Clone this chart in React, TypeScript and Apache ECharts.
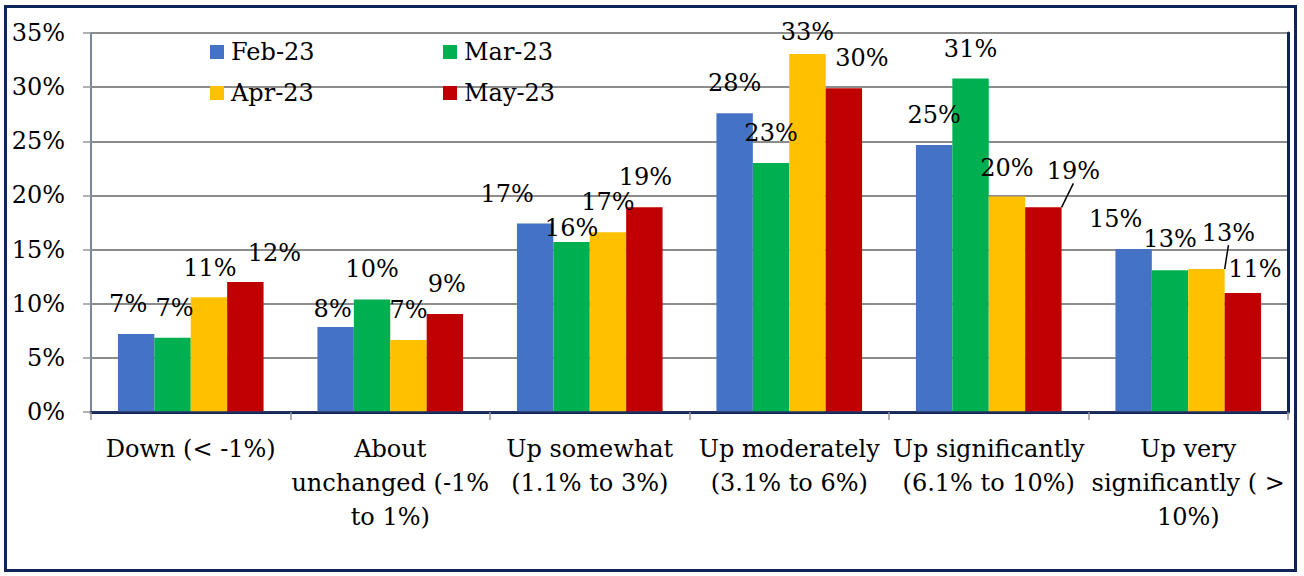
import React, { useEffect, useRef } from "react";
import * as echarts from "echarts";

const categories = [
  "Down (< -1%)",
  "About\nunchanged (-1%\nto 1%)",
  "Up somewhat\n(1.1% to 3%)",
  "Up moderately\n(3.1% to 6%)",
  "Up significantly\n(6.1% to 10%)",
  "Up very\nsignificantly ( >\n10%)",
];

const seriesNames = ["Feb-23", "Mar-23", "Apr-23", "May-23"];
const feb23 = [7.2, 7.85, 17.4, 27.6, 24.65, 15.05];
const mar23 = [6.85, 10.4, 15.7, 23.0, 30.8, 13.1];
const apr23 = [10.6, 6.65, 16.6, 33.05, 19.9, 13.2];
const may23 = [12.0, 9.05, 18.9, 29.9, 18.9, 11.0];
const yTicks = [0, 5, 10, 15, 20, 25, 30, 35];

const colors = ["#4472C4", "#00B050", "#FFC000", "#C00000"];
const FONT = "DejaVu Serif";
const FS = 24;
const NAVY = "#0e2357";

// label nudges (layout only): [dx, dy] per series per category
const labelNudges = [
  [[-8, 0], [-3, 12], [-28, 0], [0, 0], [0, 0], [-18, 0]],
  [[2, 0], [0, 0], [0, 16], [0, 0], [0, 1], [0, -1]],
  [[1, 1], [0, 0], [0, 0], [0, 8], [0, 1], [22, -6]],
  [[29, 1], [2, 0], [1, 0], [18, 0], [30, -6], [12, 6]],
];
const leaderLines = [[], [], [5], [4]];

export default function App() {
  const ref = useRef<HTMLDivElement>(null);
  useEffect(() => {
    document.body.style.margin = "0";
    const chart = echarts.init(ref.current!, undefined, { renderer: "svg" });
    const all = [feb23, mar23, apr23, may23];
    const option: any = {
      animation: false,
      textStyle: { fontFamily: FONT },
      grid: { left: 91, top: 33, right: 16, bottom: 164, containLabel: false },
      legend: seriesNames.map((n, i) => ({
        data: [n],
        left: i % 2 === 0 ? 210 : 443,
        top: i < 2 ? 40 : 81,
        padding: 0,
        itemWidth: 14,
        itemHeight: 14,
        itemGap: 0,
        icon: "rect",
        selectedMode: false,
        textStyle: { fontFamily: FONT, fontSize: FS, color: "#000", padding: [0, 0, 0, 2] },
      })),
      xAxis: [
        {
          type: "category",
          data: categories,
          axisLine: { lineStyle: { color: "#27355e", width: 1.5 } },
          axisTick: { show: true, length: 8, lineStyle: { color: "#999", width: 1.5 } },
          axisLabel: {
            interval: 0,
            margin: 20,
            fontFamily: FONT,
            fontSize: FS,
            lineHeight: 34,
            color: "#000",
          },
          z: 5,
        },
        {
          type: "category",
          position: "top",
          data: categories,
          axisLine: { show: true, lineStyle: { color: NAVY, width: 3 } },
          axisTick: { show: false },
          axisLabel: { show: false },
        },
      ],
      yAxis: [
        {
          type: "value",
          min: 0,
          max: 35,
          interval: 5,
          axisLine: { show: true, lineStyle: { color: "#7b86a0", width: 2 } },
          axisTick: { show: true, length: 8, lineStyle: { color: "#999", width: 1.5 } },
          splitLine: { lineStyle: { color: "#8c8c8c", width: 2 } },
          axisLabel: {
            margin: 26,
            fontFamily: FONT,
            fontSize: FS,
            color: "#000",
            formatter: (v: number) => (yTicks.includes(v) ? v + "%" : ""),
          },
        },
        {
          type: "value",
          position: "right",
          min: 0,
          max: 35,
          interval: 5,
          axisLine: { show: true, lineStyle: { color: NAVY, width: 3 } },
          axisTick: { show: false },
          axisLabel: { show: false },
          splitLine: { show: false },
        },
      ],
      series: all.map((vals, si) => ({
        name: seriesNames[si],
        type: "bar",
        xAxisIndex: 0,
        yAxisIndex: 0,
        barGap: "0%",
        barCategoryGap: "27%",
        itemStyle: { color: colors[si] },
        data: vals.map((v, ci) => ({
          value: v,
          labelLine: leaderLines[si].includes(ci)
            ? { show: true, lineStyle: { color: "#000", width: 1.5 } }
            : { show: false },
        })),
        label: {
          show: true,
          position: "top",
          distance: 18,
          fontFamily: FONT,
          fontSize: FS,
          color: "#000",
          formatter: (p: any) => Math.round(p.value) + "%",
        },
        labelLayout: (p: any) => {
          const n = labelNudges[si][p.dataIndex];
          return { dx: n[0], dy: n[1] };
        },
      })),
    };
    chart.setOption(option);
    return () => chart.dispose();
  }, []);
  return (
    <div style={{ position: "relative", width: 1304, height: 576, background: "#fff" }}>
      <div
        style={{
          position: "absolute",
          left: 4,
          top: 5,
          width: 1293,
          height: 567,
          boxSizing: "border-box",
          border: `3px solid ${NAVY}`,
        }}
      />
      <div ref={ref} style={{ position: "absolute", left: 0, top: 0, width: 1304, height: 576 }} />
    </div>
  );
}
